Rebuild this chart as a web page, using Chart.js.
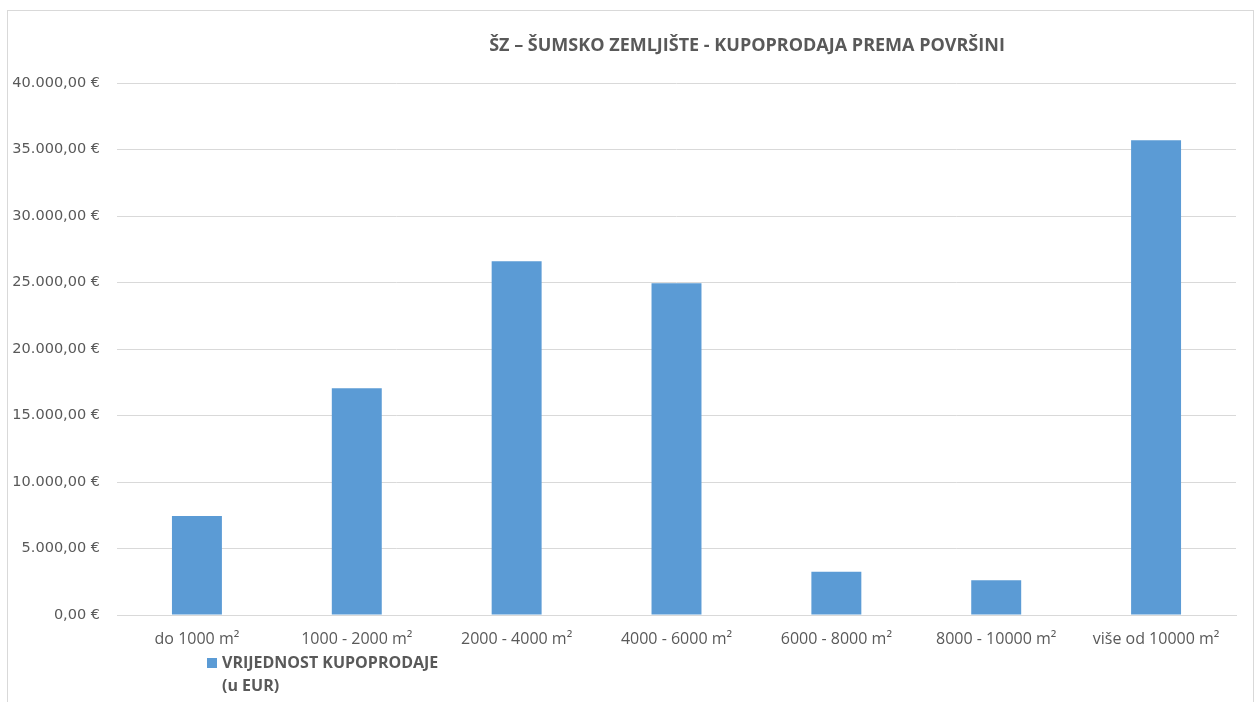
<!DOCTYPE html>
<html>
<head>
<meta charset="utf-8">
<script src="https://cdn.jsdelivr.net/npm/chart.js"></script>
<style>
  html, body { margin: 0; padding: 0; background: #fff; }
  #frame { position: absolute; left: 7px; top: 10px; width: 1245px; height: 700px;
           border: 1px solid #d9d9d9; border-bottom: none; }
  #mychart { position: absolute; left: 0; top: 0; }
</style>
</head>
<body>
<div id="frame"></div>
<canvas id="mychart" width="1255" height="702"></canvas>
<script>
const categories = ['do 1000 m²', '1000 - 2000 m²', '2000 - 4000 m²', '4000 - 6000 m²',
                    '6000 - 8000 m²', '8000 - 10000 m²', 'više od 10000 m²'];
const values = [7450, 17050, 26600, 24950, 3260, 2610, 35700];
const seriesLabel = ['VRIJEDNOST KUPOPRODAJE', '(u EUR)'];
const chartTitle = 'ŠZ – ŠUMSKO ZEMLJIŠTE - KUPOPRODAJA PREMA POVRŠINI';

const textColor = '#595959';
const fontFamily = '"Open Sans", "Noto Sans", sans-serif';

// 40000 -> "40.000,00 €"
function euro(v) {
  const s = String(Math.round(v)).replace(/\B(?=(\d{3})+(?!\d))/g, '.');
  return s + ',00 €';
}

// title sits over the middle of the plot, a bit right of canvas centre
const titlePlugin = {
  id: 'sheetTitle',
  afterDraw(chart) {
    const c = chart.ctx;
    c.save();
    c.font = 'bold 18px ' + fontFamily;
    c.fillStyle = textColor;
    c.textAlign = 'center';
    c.textBaseline = 'middle';
    c.fillText(chartTitle, 747, 46);
    c.restore();
  }
};

// legend under the axis, two lines like the excel one
const legendPlugin = {
  id: 'sheetLegend',
  afterDraw(chart) {
    const c = chart.ctx;
    const ds = chart.data.datasets[0];
    c.save();
    c.fillStyle = ds.backgroundColor;
    c.fillRect(207, 658, 10, 10);
    c.font = 'bold 16px ' + fontFamily;
    c.fillStyle = textColor;
    c.textAlign = 'left';
    c.textBaseline = 'middle';
    ds.label.forEach((line, i) => c.fillText(line, 222, 663 + i * 23));
    c.restore();
  }
};

const ctx = document.getElementById('mychart').getContext('2d');
const myChart = new Chart(ctx, {
  type: 'bar',
  data: {
    labels: categories,
    datasets: [{
      label: seriesLabel,
      data: values,
      backgroundColor: '#5b9bd5',
      barPercentage: 0.625,
      categoryPercentage: 0.5
    }]
  },
  options: {
    responsive: false,
    animation: false,
    layout: { padding: { left: 8, right: 19, top: 83, bottom: 0 } },
    plugins: {
      legend: { display: false },
      title: { display: false },
      tooltip: { enabled: false }
    },
    scales: {
      x: {
        grid: { display: false, drawTicks: false },
        border: { color: '#d9d9d9' },
        ticks: { color: textColor, font: { family: fontFamily, size: 16 }, padding: 15, maxRotation: 0 },
        afterFit(scale) { scale.height = 87; }
      },
      y: {
        min: 0,
        max: 40000,
        ticks: { stepSize: 5000, color: textColor, font: { family: '"DejaVu Sans", sans-serif', size: 14.5 },
                 padding: 17, callback: (v) => euro(v) },
        grid: { color: '#d9d9d9', drawTicks: false },
        border: { display: false },
        afterFit(scale) { scale.width = 109; }
      }
    }
  },
  plugins: [titlePlugin, legendPlugin]
});
</script>
</body>
</html>
